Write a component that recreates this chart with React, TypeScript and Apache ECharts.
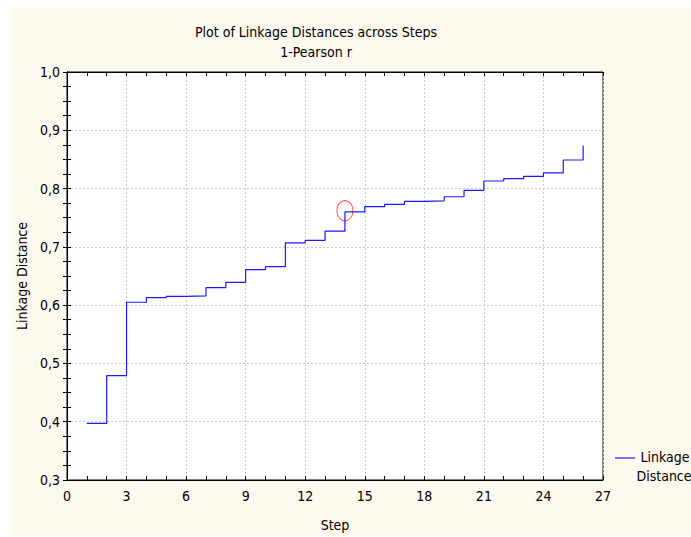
import React, { useEffect, useRef } from "react";
import * as echarts from "echarts";

const steps = [1, 2, 3, 4, 5, 6, 7, 8, 9, 10, 11, 12, 13, 14, 15, 16, 17, 18, 19, 20, 21, 22, 23, 24, 25, 26];
const linkageDistance = [
  0.397, 0.479, 0.605, 0.613, 0.615, 0.616, 0.630, 0.639, 0.661, 0.666,
  0.707, 0.711, 0.727, 0.760, 0.769, 0.773, 0.778, 0.779, 0.786, 0.797,
  0.813, 0.817, 0.821, 0.827, 0.849, 0.874,
];
const highlightPoint = [14, 0.762];
const titleText = "Plot of Linkage Distances across Steps";
const subtitleText = "1-Pearson r";
const xAxisName = "Step";
const yAxisName = "Linkage Distance";
const legendLines = ["Linkage", "Distance"];

const FONT = "'Liberation Sans Narrow', 'Arial Narrow', 'DejaVu Sans Condensed', 'Liberation Sans', sans-serif";

export default function App() {
  const ref = useRef<HTMLDivElement>(null);
  useEffect(() => {
    if (!ref.current) return;
    const chart = echarts.init(ref.current, undefined, { renderer: "svg" });
    const tickBase = {
      axisLine: { show: true, lineStyle: { color: "#000", width: 1 } },
      axisTick: { show: true, inside: true, length: 4, lineStyle: { color: "#000" } },
    };
    const xCommon = {
      type: "value" as const,
      min: 0,
      max: 27,
      interval: 3,
      ...tickBase,
      minorTick: { show: true, splitNumber: 3, length: 4, lineStyle: { color: "#000" } },
    };
    const yCommon = {
      type: "value" as const,
      min: 0.3,
      max: 1.0,
      interval: 0.1,
      ...tickBase,
      minorTick: { show: true, splitNumber: 4, length: 4, lineStyle: { color: "#000" } },
    };
    chart.setOption({
      animation: false,
      textStyle: { fontFamily: FONT },
      grid: {
        left: 67,
        right: 88,
        top: 72,
        bottom: 56,
        show: true,
        backgroundColor: "#ffffff",
        borderColor: "#000",
        borderWidth: 1,
      },
      graphic: [
        {
          type: "rect",
          z: -100,
          silent: true,
          shape: { x: 11, y: 8, width: 680, height: 528 },
          style: { fill: "#fef9ee" },
        },
        {
          type: "text",
          x: 316,
          y: 32,
          style: { text: titleText, fontSize: 14, fontFamily: FONT, fill: "#000", align: "center", verticalAlign: "middle" },
        },
        {
          type: "text",
          x: 316,
          y: 52,
          style: { text: subtitleText, fontSize: 14, fontFamily: FONT, fill: "#000", align: "center", verticalAlign: "middle" },
        },
        {
          type: "line",
          shape: { x1: 615, y1: 458, x2: 635, y2: 458 },
          style: { stroke: "#4848ff", lineWidth: 1.5 },
        },
        {
          type: "text",
          x: 665,
          y: 457,
          style: { text: legendLines[0], fontSize: 14, fontFamily: FONT, fill: "#000", align: "center", verticalAlign: "middle" },
        },
        {
          type: "text",
          x: 664,
          y: 476,
          style: { text: legendLines[1], fontSize: 14, fontFamily: FONT, fill: "#000", align: "center", verticalAlign: "middle" },
        },
      ],
      xAxis: [
        {
          ...xCommon,
          position: "bottom",
          name: xAxisName,
          nameLocation: "middle",
          nameGap: 38,
          nameTextStyle: { fontSize: 14, color: "#000", fontFamily: FONT },
          axisLabel: { fontSize: 14, color: "#000", margin: 9, fontFamily: FONT },
          splitLine: { show: true, lineStyle: { color: "#c8c8c8", type: [2, 2] } },
        },
        {
          ...xCommon,
          position: "top",
          axisLabel: { show: false },
          splitLine: { show: false },
        },
      ],
      yAxis: [
        {
          ...yCommon,
          position: "left",
          name: yAxisName,
          nameLocation: "middle",
          nameGap: 38,
          nameTextStyle: { fontSize: 14, color: "#000", fontFamily: FONT },
          axisLabel: {
            fontSize: 14,
            color: "#000",
            margin: 7,
            fontFamily: FONT,
            formatter: (v: number) => v.toFixed(1).replace(".", ","),
          },
          splitLine: { show: true, lineStyle: { color: "#c8c8c8", type: [2, 2] } },
        },
        {
          ...yCommon,
          position: "right",
          axisLabel: { show: false },
          splitLine: { show: false },
        },
      ],
      series: [
        {
          type: "line",
          name: "Linkage Distance",
          step: "end",
          showSymbol: false,
          symbol: "none",
          xAxisIndex: 0,
          yAxisIndex: 0,
          lineStyle: { color: "#1a1aff", width: 1.2 },
          data: steps.map((s, i) => [s, linkageDistance[i]]),
        },
        {
          type: "scatter",
          xAxisIndex: 0,
          yAxisIndex: 0,
          symbol: "circle",
          symbolSize: [16, 20],
          itemStyle: { color: "rgba(0,0,0,0)", borderColor: "#ff2020", borderWidth: 1 },
          data: [highlightPoint],
        },
      ],
    });
    return () => chart.dispose();
  }, []);
  return (
    <div style={{ position: "fixed", left: 0, top: 0, width: 691, height: 537, background: "#ffffff" }}>
      <div ref={ref} style={{ width: 691, height: 537 }} />
    </div>
  );
}
